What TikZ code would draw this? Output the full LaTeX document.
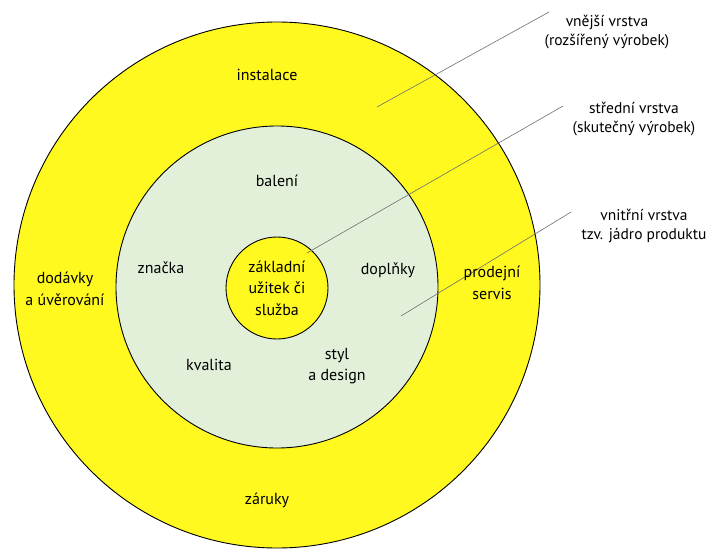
\documentclass[tikz,border=0pt]{standalone}
\usepackage{fontspec}
\setmainfont{PT Sans}
\usetikzlibrary{positioning}
\definecolor{LayerYellow}{RGB}{255,249,32}
\definecolor{MiddleGreen}{RGB}{226,240,218}
\definecolor{PointerGray}{RGB}{110,110,110}

\begin{document}
\begin{tikzpicture}[
  x=1pt, y=-1pt,
  every node/.style={font=\fontsize{16}{21.5}\selectfont, align=center, inner sep=0pt},
  layer/.style={circle, draw=black, line width=0.9pt},
  sidelabel/.style={font=\fontsize{15.5}{19}\selectfont},
  pointer/.style={draw=PointerGray, line width=0.6pt}
]
\useasboundingbox (0,0) rectangle (718,549);

% layers
\node[layer, fill=LayerYellow, minimum size=526pt] (outer) at (277,285) {};
\node[layer, fill=MiddleGreen, minimum size=322pt] (middle) at (277,287) {};
\node[layer, fill=LayerYellow, minimum size=102pt] (core) at (277,288) {základní\\užitek či\\služba};

% labels on the right
\node[sidelabel] (outerLabel) at (607,32) {vnější vrstva\\(rozšířený výrobek)};
\node[sidelabel] (middleLabel) at (634,119) {střední vrstva\\(skutečný výrobek)};
\node[sidelabel] (coreLabel) at (644,226) {vnitřní vrstva\\tzv. jádro produktu};

% pointers
\coordinate (outerTip) at (377,107);
\coordinate (outerEnd) at (549,12);
\coordinate (middleTip) at (307,253);
\coordinate (middleEnd) at (563,106);
\coordinate (coreTip) at (401,316);
\coordinate (coreEnd) at (571,212);
\draw[pointer] (outerTip) -- (outerEnd);
\draw[pointer] (middleTip) -- (middleEnd);
\draw[pointer] (coreTip) -- (coreEnd);

% outer layer
\node (instalace) at (267,75) {instalace};
\node (dodavky) at (65,289) {dodávky\\a úvěrování};
\node (servis) at (492,283) {prodejní\\servis};
\node (zaruky) at (267,500) {záruky};

% middle layer
\node (baleni) at (277,181) {balení};
\node (znacka) at (161,268) {značka};
\node (doplnky) at (388,270) {doplňky};
\node (kvalita) at (209,365) {kvalita};
\node (design) at (337,366) {styl\\a design};
\end{tikzpicture}
\end{document}
